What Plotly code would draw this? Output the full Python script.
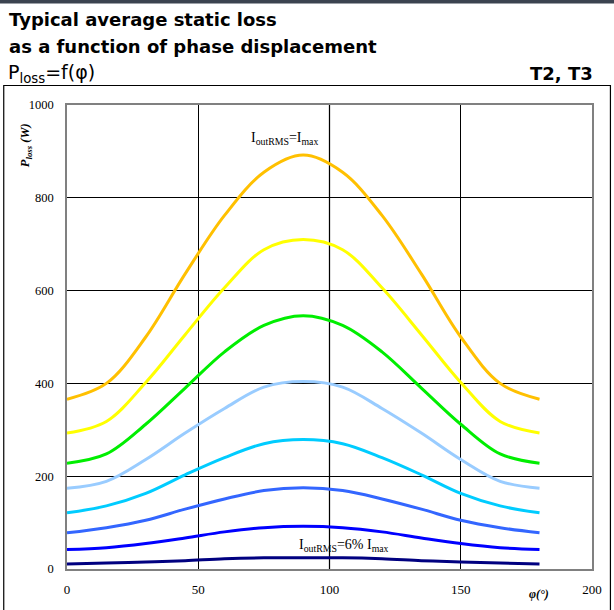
import plotly.graph_objects as go

# Phase displacement (degrees)
phi = [0, 15, 30, 45, 60, 75, 90, 105, 120, 135, 150, 165, 180]

# Average static loss (W) per output current level, top to bottom
loss_100 = [366, 400, 500, 636, 762, 855, 892, 855, 762, 636, 500, 400, 366]
loss_88 = [293, 318, 402, 505, 606, 688, 710, 688, 606, 505, 402, 318, 293]
loss_75 = [228, 248, 312, 390, 468, 525, 546, 525, 468, 390, 312, 248, 228]
loss_62 = [174, 189, 236, 293, 346, 392, 404, 392, 346, 293, 236, 189, 174]
loss_50 = [121, 136, 163, 203, 240, 270, 279, 270, 240, 203, 163, 136, 121]
loss_37 = [78, 89, 105, 129, 151, 169, 175, 169, 151, 129, 105, 89, 78]
loss_25 = [42, 46, 55, 67, 80, 89, 92, 89, 80, 67, 55, 46, 42]
loss_6 = [11, 13, 15, 18, 22, 24, 24, 24, 22, 18, 15, 13, 11]

series = [loss_100, loss_88, loss_75, loss_62, loss_50, loss_37, loss_25, loss_6]
colors = ["#FFC000", "#FFFF00", "#00EE00", "#99CCFF", "#00CCFF", "#3366FF", "#0000FF", "#000080"]

x_ticks = [0, 50, 100, 150, 200]
y_ticks = [0, 200, 400, 600, 800, 1000]

W, H = 614, 610
ML, MR, MT, MB = 67, 20, 105, 41
PW, PH = W - ML - MR, H - MT - MB


def px(x):
    return (x - ML) / PW


def py(y):
    return (H - MB - y) / PH


fig = go.Figure()

for vals, col in zip(series, colors):
    fig.add_trace(go.Scatter(
        x=phi, y=vals, mode="lines",
        line=dict(color=col, width=3, shape="spline", smoothing=1.0, simplify=False),
        hoverinfo="skip", showlegend=False,
    ))

serif = "Liberation Serif, Times New Roman, serif"
sans = "DejaVu Sans, Verdana, sans-serif"

fig.update_layout(
    width=W, height=H,
    margin=dict(l=ML, r=MR, t=MT, b=MB),
    paper_bgcolor="white", plot_bgcolor="white",
    xaxis=dict(
        range=[0, 200], tickvals=x_ticks, ticktext=[str(v) for v in x_ticks],
        showgrid=True, gridcolor="black", gridwidth=1,
        showline=True, linecolor="#808080", linewidth=1.5, mirror=True,
        zeroline=False, ticks="", ticklabelstandoff=8,
        tickfont=dict(family=serif, size=13, color="black"),
    ),
    yaxis=dict(
        range=[0, 1000], tickvals=y_ticks, ticktext=[str(v) for v in y_ticks],
        showgrid=True, gridcolor="black", gridwidth=1,
        showline=True, linecolor="#808080", linewidth=1.5, mirror=True,
        zeroline=False, ticks="", ticklabelstandoff=9,
        tickfont=dict(family=serif, size=12.5, color="black"),
    ),
)

# Center vertical grid line drawn in gray
fig.add_shape(type="line", xref="x", yref="paper", x0=100, x1=100, y0=0, y1=1,
              line=dict(color="#808080", width=1.5), layer="below")

# Dark header strip and outer frame
fig.add_shape(type="rect", xref="paper", yref="paper",
              x0=px(-5), x1=px(W + 5), y0=py(3.5), y1=py(-5),
              fillcolor="#3b4350", line=dict(width=0))
fig.add_shape(type="rect", xref="paper", yref="paper",
              x0=px(3.5), x1=px(612.5), y0=py(H + 10), y1=py(85.5),
              line=dict(color="black", width=1.2), fillcolor="rgba(0,0,0,0)")

annots = [
    dict(x=px(7), y=py(19.5), text="<b>Typical average static loss</b>", xanchor="left",
         font=dict(family=sans, size=18, color="black")),
    dict(x=px(7), y=py(46.5), text="<b>as a function of phase displacement</b>", xanchor="left",
         font=dict(family=sans, size=18, color="black")),
    dict(x=px(6), y=py(74), text="P<sub>loss</sub>=f(φ)", xanchor="left",
         font=dict(family=sans, size=19, color="black")),
    dict(x=px(597), y=py(74), text="<b>T2, T3</b>", xanchor="right",
         font=dict(family=sans, size=18, color="black")),
    dict(x=px(26), y=py(145), text="<b><i>P<sub>loss</sub> (W)</i></b>", textangle=-90,
         font=dict(family=serif, size=12.5, color="black")),
    dict(x=px(541), y=py(594), text="<b><i>φ(°)</i></b>",
         font=dict(family=serif, size=12, color="black")),
]
for a in annots:
    a.update(xref="paper", yref="paper", showarrow=False, yanchor="middle")
    if "xanchor" not in a:
        a["xanchor"] = "center"
    fig.add_annotation(**a)

fig.add_annotation(x=83, y=927, xref="x", yref="y", showarrow=False,
                   text="I<sub>outRMS</sub>=I<sub>max</sub>",
                   font=dict(family=serif, size=14, color="black"))
fig.add_annotation(x=105.7, y=51, xref="x", yref="y", showarrow=False,
                   text="I<sub>outRMS</sub>=6% I<sub>max</sub>",
                   font=dict(family=serif, size=14, color="black"))

fig.write_html("out.html")
